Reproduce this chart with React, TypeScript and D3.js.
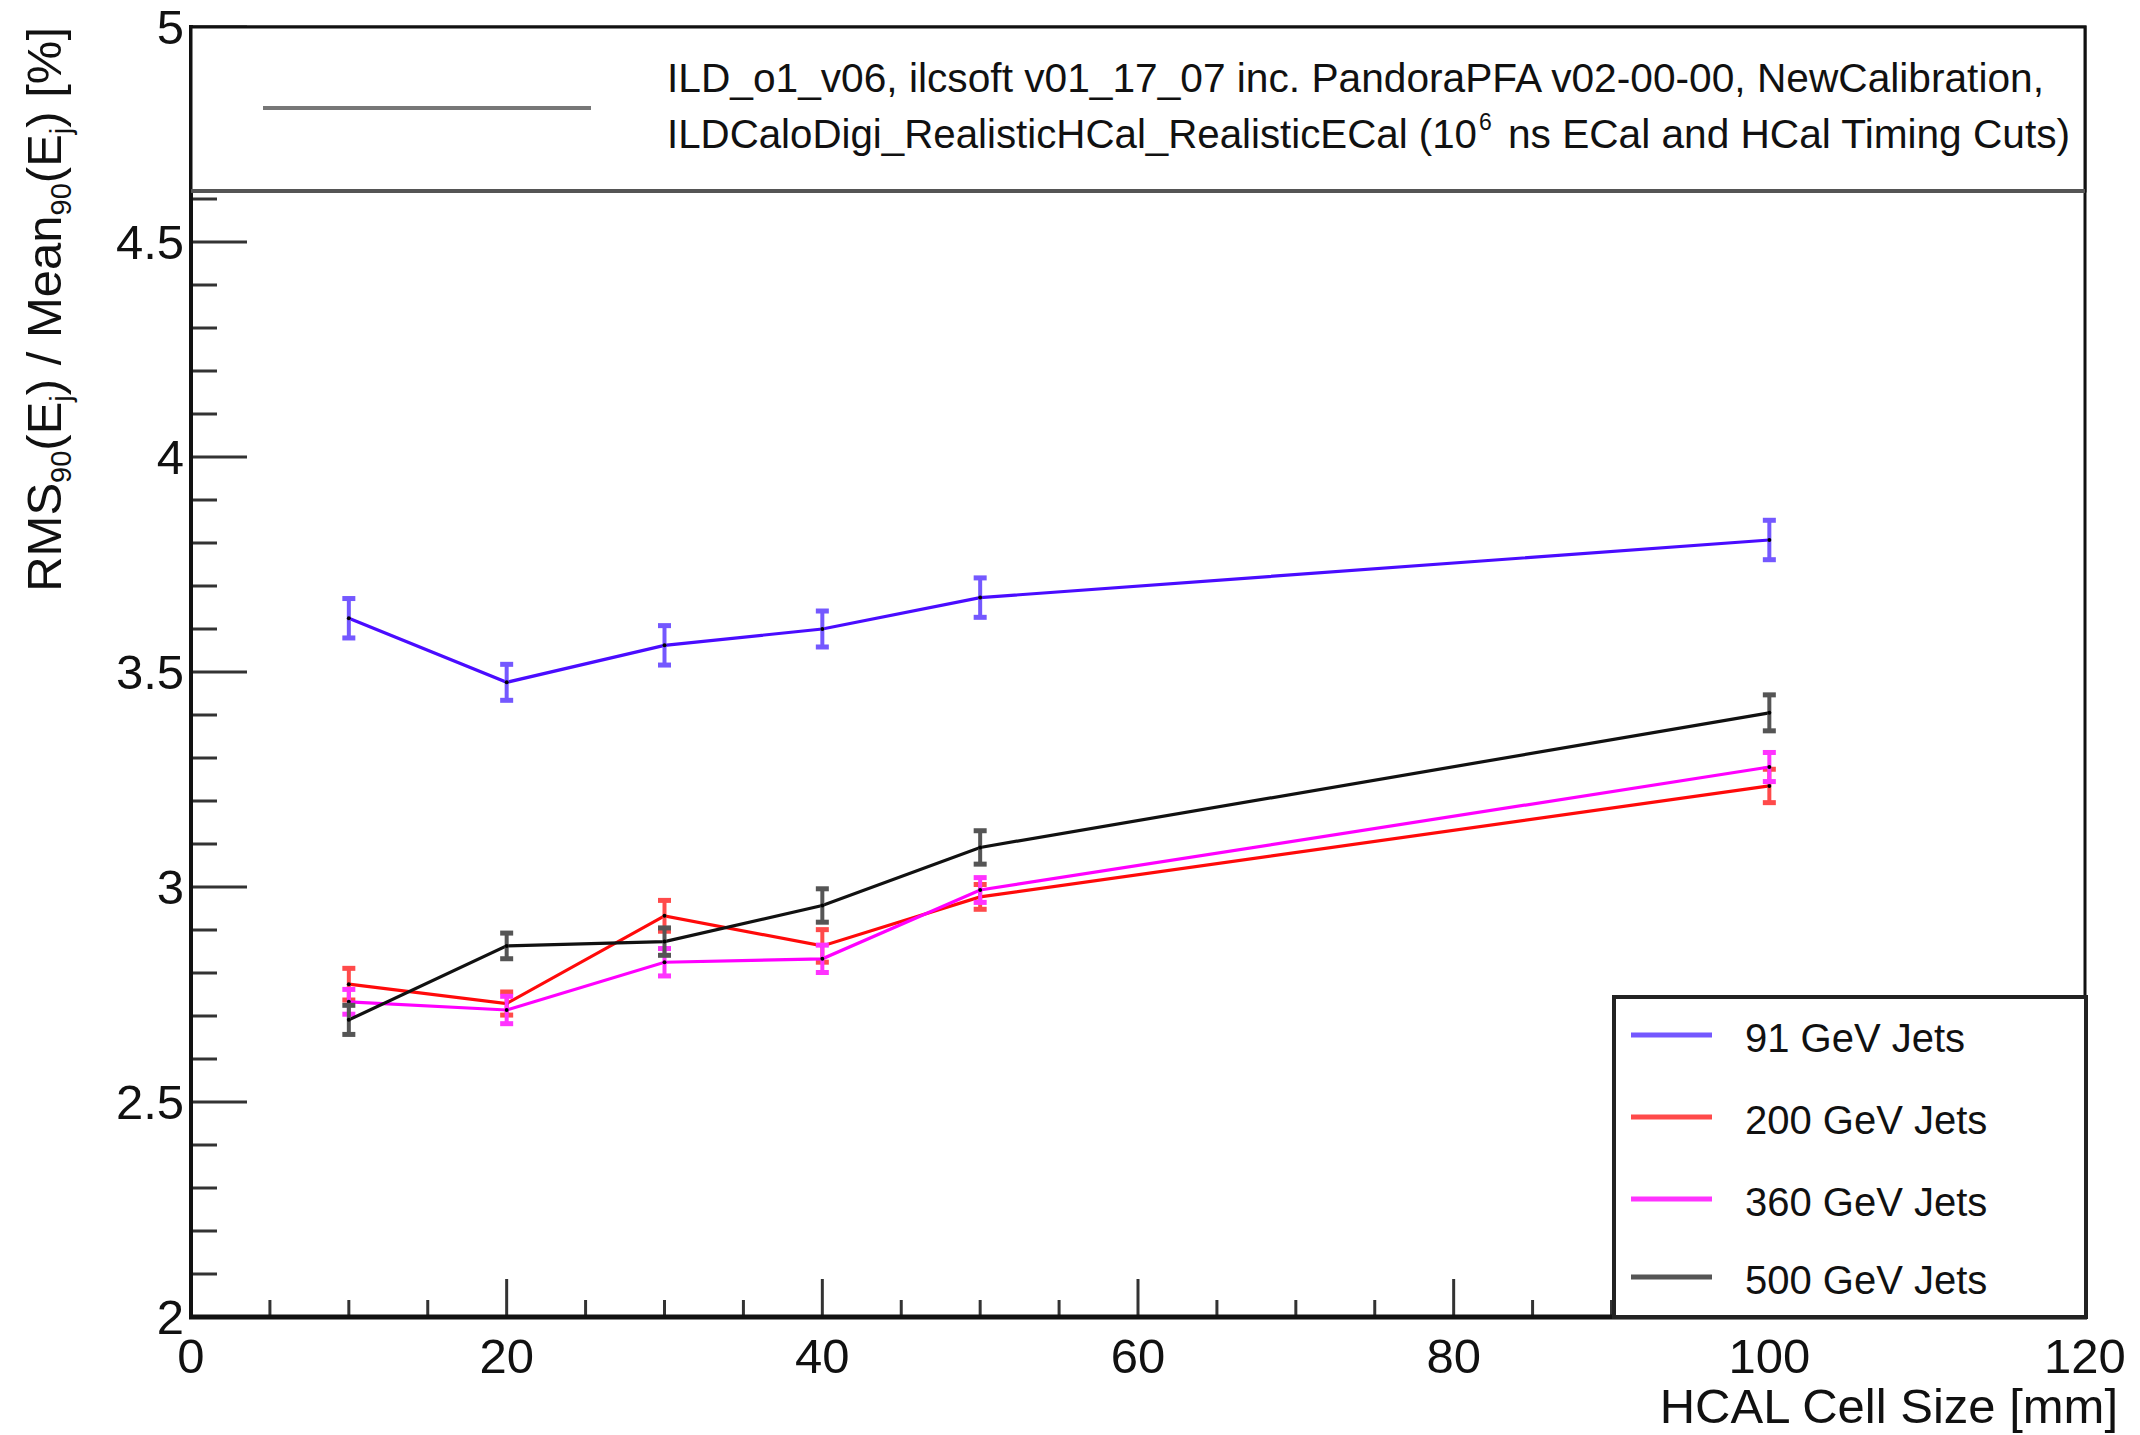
import React from "react";
import * as d3 from "d3";

const cellSizes = [10, 20, 30, 40, 50, 100];
const jets91 = [3.625, 3.476, 3.562, 3.6, 3.673, 3.807];
const err91 = [0.047, 0.043, 0.047, 0.043, 0.047, 0.047];
const jets200 = [2.774, 2.729, 2.933, 2.863, 2.977, 3.235];
const err200 = [0.038, 0.028, 0.037, 0.039, 0.03, 0.04];
const jets360 = [2.733, 2.714, 2.825, 2.833, 2.993, 3.279];
const err360 = [0.03, 0.033, 0.033, 0.033, 0.03, 0.035];
const jets500 = [2.691, 2.863, 2.873, 2.957, 3.092, 3.405];
const err500 = [0.035, 0.031, 0.033, 0.04, 0.04, 0.043];

const seriesNames = ["91 GeV Jets", "200 GeV Jets", "360 GeV Jets", "500 GeV Jets"];
const xTickLabels = [0, 20, 40, 60, 80, 100, 120];
const yTickLabels = [2, 2.5, 3, 3.5, 4, 4.5, 5];

const FONT = "'Liberation Sans', Arial, Helvetica, sans-serif";

export default function App() {
  const W = 2140, H = 1435;
  const L = 191, R = 2085, T = 27, B = 1317;
  const x = d3.scaleLinear().domain([0, 120]).range([L, R]);
  const y = d3.scaleLinear().domain([2, 5]).range([B, T]);

  const series = [
    { name: seriesNames[0], vals: jets91, errs: err91, line: "#4a0cff", bar: "#7458ff" },
    { name: seriesNames[1], vals: jets200, errs: err200, line: "#ff0a0a", bar: "#ff4a4a" },
    { name: seriesNames[2], vals: jets360, errs: err360, line: "#ff00ff", bar: "#ff33ff" },
    { name: seriesNames[3], vals: jets500, errs: err500, line: "#111111", bar: "#555555" },
  ];

  const lineGen = d3
    .line<number>()
    .x((_, i) => x(cellSizes[i]))
    .y((v) => y(v));

  const xMinor = d3.range(0, 121, 5);
  const yMinor = d3.range(20, 51, 1).map((v) => v / 10);

  const legendRows = [1035, 1117, 1199, 1277];

  return (
    <svg
      width={W}
      height={H}
      viewBox={`0 0 ${W} ${H}`}
      style={{ position: "absolute", left: 0, top: 0, display: "block", background: "#fff" }}
      fontFamily={FONT}
    >
      <rect x={0} y={0} width={W} height={H} fill="#fff" />

      {/* ticks */}
      {xMinor.map((v) => {
        const major = v % 20 === 0;
        return (
          <line
            key={"xt" + v}
            x1={x(v)}
            x2={x(v)}
            y1={B}
            y2={B - (major ? 38 : 17)}
            stroke="#333"
            strokeWidth={3}
          />
        );
      })}
      {yMinor.map((v) => {
        const major = Math.round(v * 10) % 5 === 0;
        return (
          <line
            key={"yt" + v}
            x1={L}
            x2={L + (major ? 56 : 26)}
            y1={y(v)}
            y2={y(v)}
            stroke="#333"
            strokeWidth={3}
          />
        );
      })}

      {/* data */}
      {series.map((s) => (
        <g key={s.name}>
          <path d={lineGen(s.vals) || ""} fill="none" stroke={s.line} strokeWidth={3.2} />
          {s.vals.map((v, i) => {
            const cx = x(cellSizes[i]);
            const y1 = y(v + s.errs[i]);
            const y2 = y(v - s.errs[i]);
            return (
              <g key={i}>
                <line x1={cx} x2={cx} y1={y1} y2={y2} stroke={s.bar} strokeWidth={4} />
                <rect x={cx - 6.5} y={y1 - 2} width={13} height={5} fill={s.bar} />
                <rect x={cx - 6.5} y={y2 - 3} width={13} height={5} fill={s.bar} />
                <circle cx={cx} cy={y(v)} r={2} fill="#000" />
              </g>
            );
          })}
        </g>
      ))}

      {/* frame */}
      <rect x={L} y={T} width={R - L} height={B - T} fill="none" stroke="#111" strokeWidth={3} />
      <line x1={L - 2} x2={R + 2} y1={B} y2={B} stroke="#111" strokeWidth={5} />
      <line x1={L} x2={L} y1={T - 2} y2={B} stroke="#111" strokeWidth={4} />

      {/* header box */}
      <rect x={L} y={T} width={R - L} height={191 - T} fill="#fff" stroke="#111" strokeWidth={3} />
      <line x1={L} x2={R} y1={191} y2={191} stroke="#555" strokeWidth={4} />
      <line x1={263} x2={591} y1={108} y2={108} stroke="#777" strokeWidth={4} />
      <text x={667} y={92} fontSize={40} fill="#111" textLength={1377} lengthAdjust="spacingAndGlyphs">
        ILD_o1_v06, ilcsoft v01_17_07 inc. PandoraPFA v02-00-00, NewCalibration,
      </text>
      <text x={667} y={148} fontSize={40} fill="#111" textLength={810} lengthAdjust="spacingAndGlyphs">
        ILDCaloDigi_RealisticHCal_RealisticECal (10
      </text>
      <text x={1479} y={130} fontSize={23} fill="#111">
        6
      </text>
      <text x={1508} y={148} fontSize={40} fill="#111" textLength={562} lengthAdjust="spacingAndGlyphs">
        ns ECal and HCal Timing Cuts)
      </text>

      {/* legend */}
      <rect x={1614} y={997} width={2086 - 1614} height={B - 997} fill="#fff" stroke="#222" strokeWidth={4} />
      {series.map((s, i) => (
        <g key={"lg" + i}>
          <line x1={1631} x2={1712} y1={legendRows[i]} y2={legendRows[i]} stroke={s.bar} strokeWidth={5} />
          <text x={1745} y={legendRows[i] + 17} fontSize={40} fill="#111">
            {s.name}
          </text>
        </g>
      ))}

      {/* tick labels */}
      {xTickLabels.map((v) => (
        <text key={"xl" + v} x={x(v)} y={1373} fontSize={49} textAnchor="middle" fill="#111">
          {v}
        </text>
      ))}
      {yTickLabels.map((v) => (
        <text key={"yl" + v} x={184} y={y(v) + 17} fontSize={49} textAnchor="end" fill="#111">
          {v}
        </text>
      ))}

      {/* axis titles */}
      <text x={2118} y={1423} fontSize={49} textAnchor="end" fill="#111">
        HCAL Cell Size [mm]
      </text>
      <text transform="translate(61,27) rotate(-90)" fontSize={49} textAnchor="end" fill="#111">
        RMS<tspan fontSize={29} dy={10}>90</tspan>
        <tspan dy={-10}>(E</tspan>
        <tspan fontSize={29} dy={10}>j</tspan>
        <tspan dy={-10}>) / Mean</tspan>
        <tspan fontSize={29} dy={10}>90</tspan>
        <tspan dy={-10}>(E</tspan>
        <tspan fontSize={29} dy={10}>j</tspan>
        <tspan dy={-10}>) [%]</tspan>
      </text>
    </svg>
  );
}
